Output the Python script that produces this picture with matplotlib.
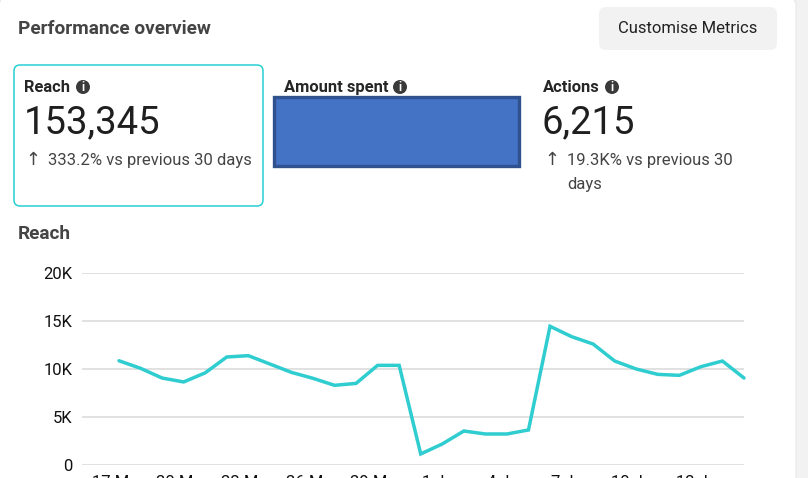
import matplotlib
matplotlib.use("Agg")
import matplotlib.pyplot as plt
from matplotlib.patches import FancyBboxPatch, Rectangle, Circle

plt.rcParams['font.family'] = ['Roboto', 'DejaVu Sans']

# Daily reach, 17 May to 15 June
reach = [10860, 10070, 9060, 8650, 9600, 11250, 11390, 10520, 9650, 9030,
         8300, 8500, 10380, 10380, 1150, 2190, 3540, 3230, 3230, 3650,
         14450, 13370, 12600, 10830, 10000, 9440, 9340, 10240, 10830, 9060]
y_ticks = [0, 5000, 10000, 15000, 20000]
y_labels = ['0', '5K', '10K', '15K', '20K']
x_ticks = [0, 3, 6, 9, 12, 15, 18, 21, 24, 27]
x_labels = ['17 May', '20 May', '23 May', '26 May', '29 May',
            '1 Jun', '4 Jun', '7 Jun', '10 Jun', '13 Jun']

W, H = 808, 478
TEAL = '#2fcdd0'
DARK = '#1f1f1f'
GREY = '#444444'

fig = plt.figure(figsize=(W / 100, H / 100), dpi=100, facecolor='#f2f2f2')

# Pixel-space layer for the card furniture
ui = fig.add_axes([0, 0, 1, 1], zorder=0)
ui.set_xlim(0, W)
ui.set_ylim(H, 0)
ui.axis('off')

# Page card with rounded top corners
ui.add_patch(FancyBboxPatch((-1, -3), 797, H + 30, boxstyle='round,pad=0,rounding_size=9',
                            fc='white', ec='#e8e8e8', lw=0.8))

ui.text(18, 28.5, 'Performance overview', fontsize=13.7, fontweight='bold',
        color=GREY, va='center', ha='left')

# Button
ui.add_patch(FancyBboxPatch((599, 7), 178, 43, boxstyle='round,pad=0,rounding_size=7',
                            fc='#f2f2f2', ec='none'))
ui.text(688, 28, 'Customise Metrics', fontsize=12, color='#222222',
        va='center', ha='center')

# Selected metric card
ui.add_patch(FancyBboxPatch((14, 65), 249, 141, boxstyle='round,pad=0,rounding_size=6',
                            fc='white', ec='#27d0d4', lw=1.1))


def info_icon(x, y):
    ui.add_patch(Circle((x, y), 7, fc='#3a3a3a', ec='none', zorder=3))
    ui.text(x, y + 0.3, 'i', fontsize=8.5, fontweight='bold', color='white',
            ha='center', va='center', zorder=4)


def metric(x, title, title_w, value, change, arrow_x=None, second=None, value_x=None):
    ui.text(x, 87, title, fontsize=11.9, fontweight='bold', color='#262626',
            ha='left', va='center')
    info_icon(x + title_w, 87)
    ui.text(x if value_x is None else value_x, 123, value, fontsize=27.5, color=DARK,
            ha='left', va='center')
    ui.text(arrow_x, 160, '\u2191', fontsize=13, color=GREY, family='DejaVu Sans',
            ha='center', va='center')
    ui.text(arrow_x + 15, 160.5, change, fontsize=12, color=GREY, ha='left', va='center')
    if second:
        ui.text(arrow_x + 15, 184.5, second, fontsize=12, color=GREY, ha='left', va='center')


metric(24, 'Reach', 59, '153,345', '333.2% vs previous 30 days', arrow_x=33)
metric(284, 'Amount spent', 116, '', '000.0% vs previous 30 days', arrow_x=289)
metric(543, 'Actions', 69, '6,215', '19.3K% vs previous 30', arrow_x=552, second='days', value_x=542)

# Redaction block over the middle metric
ui.add_patch(Rectangle((274.2, 97.2), 244.6, 68.3, fc='#4472c4', ec='#2f528f', lw=2.4, zorder=5))

ui.text(18, 233.5, 'Reach', fontsize=13.7, fontweight='bold', color=GREY, va='center', ha='left')

# Line chart
left, right, top, bottom = 82, 744, 273, 465
ax = fig.add_axes([left / W, 1 - bottom / H, (right - left) / W, (bottom - top) / H], zorder=1)
ax.patch.set_alpha(0)
step = (744 - 119) / 29
ax.set_xlim(-(119 - left) / step, 29)
ax.set_ylim(0, 20000)
for s in ax.spines.values():
    s.set_visible(False)
ax.set_yticks(y_ticks, y_labels)
ax.set_xticks(x_ticks, x_labels)
ax.tick_params(axis='both', length=0, labelsize=12, labelcolor='#111111')
ax.tick_params(axis='y', pad=7)
ax.tick_params(axis='x', pad=7)
ax.grid(axis='y', color='#d9d9d9', lw=1.1)
ax.set_axisbelow(True)
ax.plot(range(len(reach)), reach, color=TEAL, lw=2.5, clip_on=False,
        solid_joinstyle='miter', solid_capstyle='round')

fig.savefig('out.png', dpi=100)
